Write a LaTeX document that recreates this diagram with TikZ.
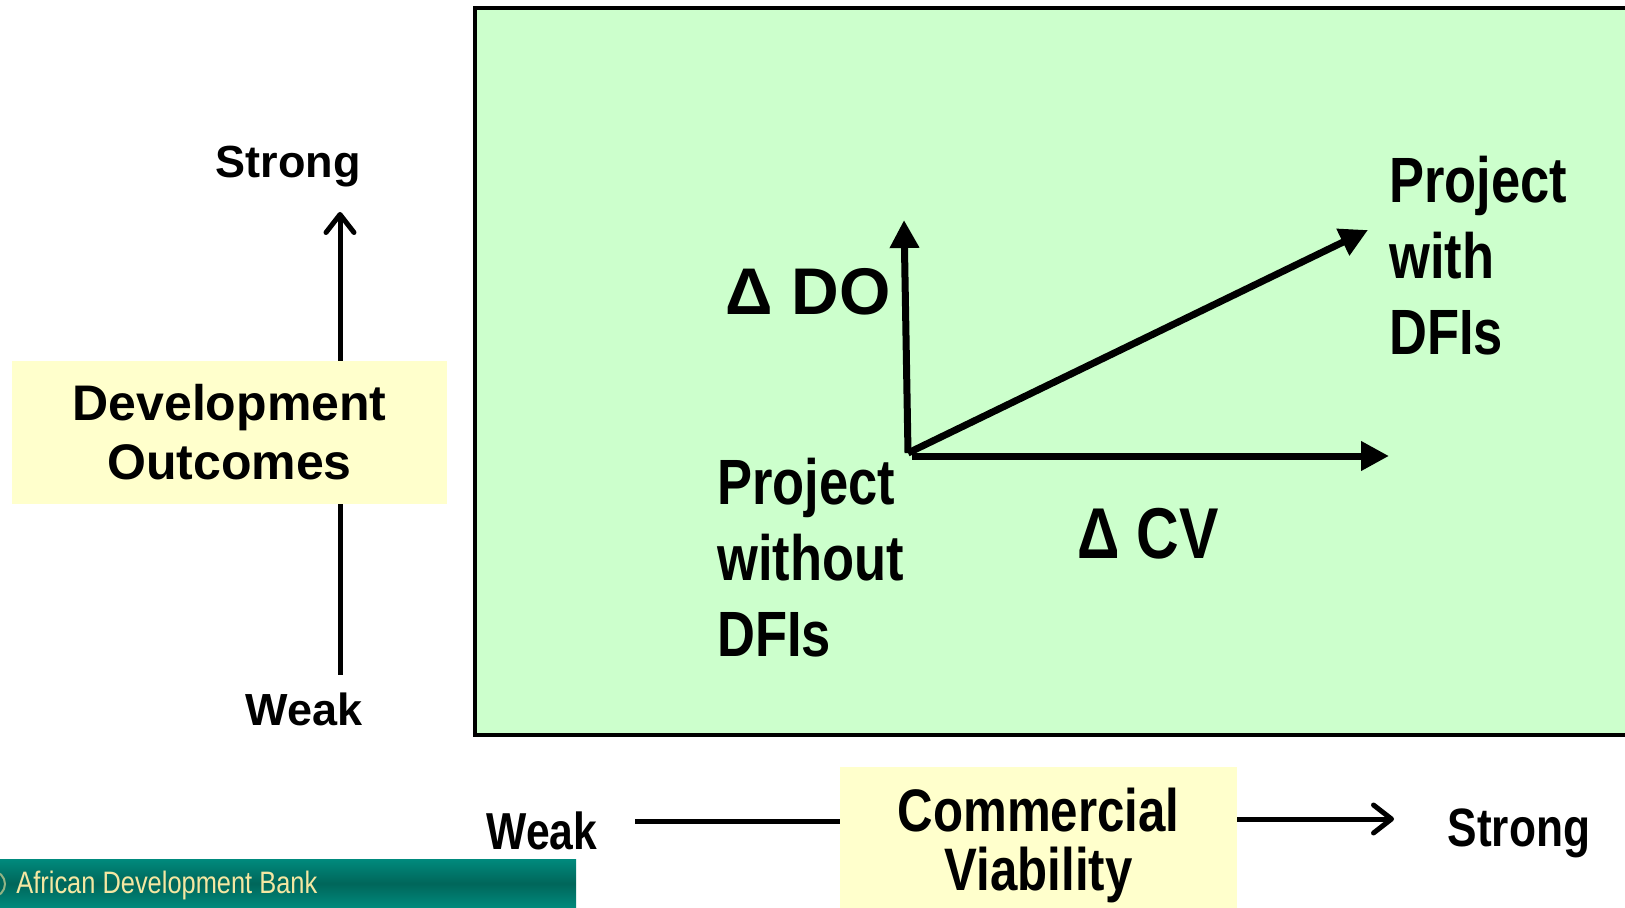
\documentclass[tikz,border=0pt]{standalone}
\usepackage{fontspec}
\setmainfont{Liberation Sans}
\newfontfamily\narrowfont[FakeStretch=0.82]{Liberation Sans}
\usetikzlibrary{arrows.meta, positioning}
\definecolor{panelgreen}{HTML}{CCFFCC}
\definecolor{labelyellow}{HTML}{FFFFCC}
\definecolor{bankteal}{HTML}{008A7D}
\definecolor{bankdark}{HTML}{00665A}
\definecolor{banktext}{HTML}{F4E7A2}
\tikzset{>=stealth,
  widelabel/.style={inner sep=0pt, font=\bfseries\fontsize{22.5}{26}\selectfont},
  narrowlabel/.style={inner sep=0pt, align=left, font=\narrowfont\bfseries\fontsize{32}{38}\selectfont},
  axisbox/.style={fill=labelyellow, inner sep=0pt, align=center},
  axisline/.style={line width=2.5pt},
  axisarrow/.style={line width=2.5pt, -{Straight Barb[length=9pt, width=14pt, line width=2.5pt, round]}},
  shiftarrow/.style={line width=3.5pt, -{Triangle[length=14pt, width=14pt]}}
}

\begin{document}
\begin{tikzpicture}[x=0.5pt, y=-0.5pt]
    \useasboundingbox (0,0) rectangle (1625,908);
    % panel
    \draw[line width=2pt, fill=panelgreen] (475,8) rectangle (1700,735);
    % left axis
    \node[widelabel] (doStrong) at (288,167) {Strong};
    \node[widelabel] (doWeak) at (304,709) {Weak};
    \node[axisbox, minimum width=217.5pt, minimum height=71.5pt,
          font=\bfseries\fontsize{25}{29.5}\selectfont] (do) at (229.5,432.5) {Development\\Outcomes};
    \coordinate (doTip) at (340,212);
    \coordinate (doEnd) at (340,675);
    \draw[axisarrow] (do.north -| doTip) -- (doTip);
    \draw[axisline] (do.south -| doEnd) -- (doEnd);
    % shifts inside the panel
    \coordinate (O) at (908,453);
    \coordinate (dTop) at (904,220);
    \coordinate (dDiag) at (1368,230);
    \coordinate (dRight) at (1389,456);
    \draw[shiftarrow] (O) -- (dTop);
    \draw[shiftarrow] (O) -- (dDiag);
    \draw[shiftarrow] (912,456) -- (dRight);
    \node[inner sep=0pt, font=\bfseries\fontsize{33}{38}\selectfont] (dDO) at (808,292) {Δ DO};
    \node[narrowlabel, font=\narrowfont\bfseries\fontsize{36}{38}\selectfont] (dCV) at (1148,534) {Δ CV};
    \node[narrowlabel, anchor=west] (without) at (717,558) {Project\\without\\DFIs};
    \node[narrowlabel, anchor=west] (with) at (1389,256) {Project\\with\\DFIs};
    % bottom axis
    \node[narrowlabel, font=\narrowfont\bfseries\fontsize{26}{30}\selectfont] (cvWeak) at (542,831) {Weak};
    \node[narrowlabel, font=\narrowfont\bfseries\fontsize{27}{30}\selectfont] (cvStrong) at (1519,833) {Strong};
    \node[axisbox, minimum width=198.5pt, minimum height=71pt] (cv) at (1038.5,838) {};
    \node[align=center, inner sep=0pt,
          font=\narrowfont\bfseries\fontsize{30}{29.5}\selectfont] (cvText) at (1038.5,845) {Commercial\\Viability};
    \coordinate (cvStart) at (635,821);
    \coordinate (cvTip) at (1394,819);
    \draw[line width=2.5pt] (cvStart) -- (cv.west |- cvStart);
    \draw[axisarrow] (cv.east |- cvTip) -- (cvTip);
    % footer
    \shade[top color=bankteal, bottom color=bankteal, middle color=bankdark] (0,859) rectangle (576,908);
    \draw[banktext!60!bankdark, fill=bankdark, line width=1pt] (-8,884) circle (13);
    \node[inner sep=0pt, anchor=west, text=banktext,
          font=\narrowfont\fontsize{15.5}{18}\selectfont] (bank) at (16,885) {African Development Bank};
\end{tikzpicture}
\end{document}
